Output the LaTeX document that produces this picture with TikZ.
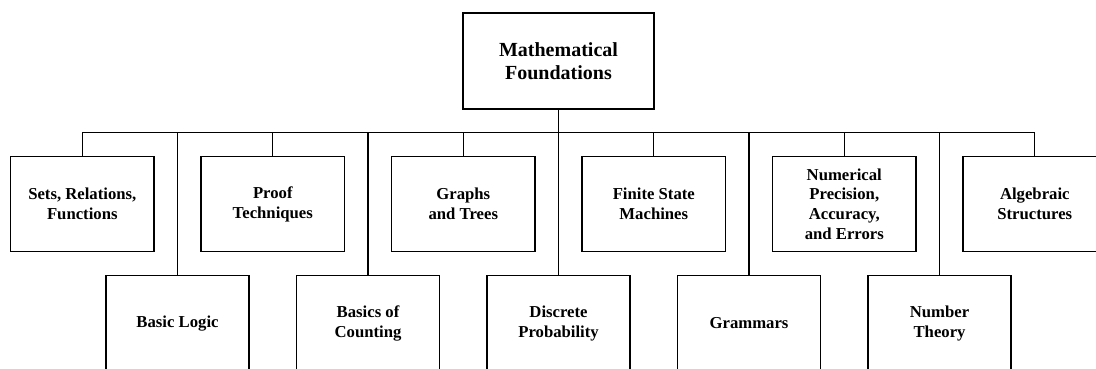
\documentclass[tikz,border=0pt]{standalone}
\usepackage{fontspec}
\setmainfont{Liberation Serif}
\usepackage{tikz}
\usetikzlibrary{positioning}
\tikzset{
  rootbox/.style={draw=black, line width=1.8pt, minimum width=190.4pt, minimum height=95.4pt, align=center, font=\fontsize{20}{23.3}\selectfont\bfseries},
  topicbox/.style={draw=black, line width=1.5pt, minimum width=143.3pt, minimum height=95.4pt, align=center, font=\fontsize{16.7}{19.8}\selectfont\bfseries},
  treeline/.style={draw=black, line width=1.2pt}
}
\begin{document}
\begin{tikzpicture}[x=1pt, y=-1pt]
    \clip (0,0) rectangle (1096,368);
    \node[rootbox] (root) at (558.5,61) {Mathematical\\Foundations};
    \coordinate (bus) at (558.5,132.3);
    % upper row
    \node[topicbox] (sets) at (82.3,204) {Sets, Relations,\\Functions};
    \node[topicbox] (proof) at (272.8,204) {Proof\\Techniques};
    \node[topicbox] (graphs) at (463.3,204) {Graphs\\and Trees};
    \node[topicbox] (fsm) at (653.8,204) {Finite State\\Machines};
    \node[topicbox] (numer) at (844.3,204) {Numerical\\Precision,\\Accuracy,\\and Errors};
    \node[topicbox] (algeb) at (1034.8,204) {Algebraic\\Structures};
    % lower row
    \node[topicbox] (logic) at (177.55,323.4) {Basic Logic};
    \node[topicbox] (count) at (368.05,323.4) {Basics of\\Counting};
    \node[topicbox] (prob) at (558.55,323.4) {Discrete\\Probability};
    \node[topicbox] (gramm) at (749.05,323.4) {Grammars};
    \node[topicbox] (numth) at (939.55,323.4) {Number\\Theory};
    % connectors
    \draw[treeline] (root.south) -- (bus);
    \draw[treeline] (sets.north) |- (bus);
    \draw[treeline] (proof.north) |- (bus);
    \draw[treeline] (graphs.north) |- (bus);
    \draw[treeline] (fsm.north) |- (bus);
    \draw[treeline] (numer.north) |- (bus);
    \draw[treeline] (algeb.north) |- (bus);
    \draw[treeline] (logic.north) |- (bus);
    \draw[treeline] (count.north) |- (bus);
    \draw[treeline] (prob.north) |- (bus);
    \draw[treeline] (gramm.north) |- (bus);
    \draw[treeline] (numth.north) |- (bus);
\end{tikzpicture}
\end{document}
